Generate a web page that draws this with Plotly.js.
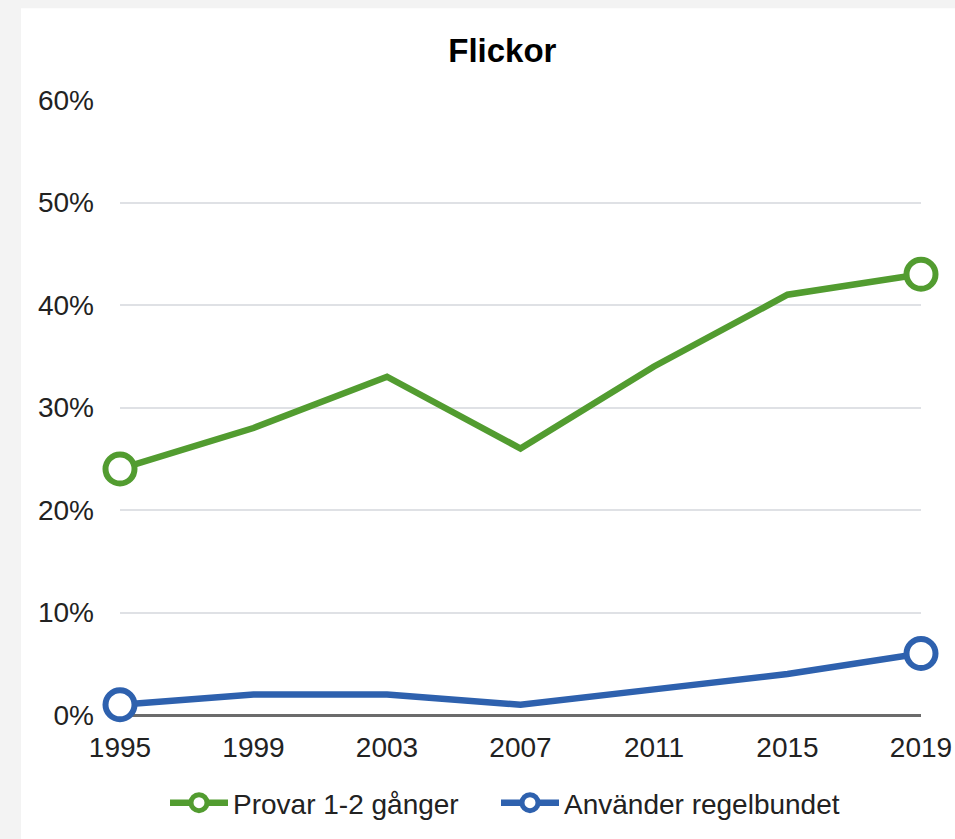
<!DOCTYPE html>
<html>
<head>
<meta charset="utf-8">
<script src="https://cdn.plot.ly/plotly-3.0.1.min.js"></script>
<style>
  html, body { margin: 0; padding: 0; background: #f3f3f3; }
  #chart { width: 955px; height: 839px; }
</style>
</head>
<body>
<div id="chart"></div>
<script>
const years = [1995, 1999, 2003, 2007, 2011, 2015, 2019];
const provar = [24, 28, 33, 26, 34, 41, 43];
const anvander = [1, 2, 2, 1, 2.5, 4, 6];
const seriesNames = ['Provar 1-2 gånger', 'Använder regelbundet'];
const yTickVals = [0, 10, 20, 30, 40, 50, 60];
const yTickText = ['0%', '10%', '20%', '30%', '40%', '50%', '60%'];
const titleText = 'Flickor';

const green = '#529c30';
const blue = '#2e61ae';
const clear = 'rgba(0,0,0,0)';

function endOnly(n, on, off) {
  return Array.from({length: n}, (_, i) => (i === 0 || i === n - 1) ? on : off);
}

function makeTrace(name, yvals, color, legendId) {
  const n = yvals.length;
  return {
    type: 'scatter',
    mode: 'lines+markers',
    name: name,
    legend: legendId,
    x: years,
    y: yvals,
    cliponaxis: false,
    line: {color: color, width: 6.5},
    marker: {
      symbol: 'circle',
      size: 29,
      color: endOnly(n, '#ffffff', clear),
      line: {color: endOnly(n, color, clear), width: 6}
    },
    hoverinfo: 'x+y'
  };
}

const data = [
  makeTrace(seriesNames[0], provar, green, 'legend'),
  makeTrace(seriesNames[1], anvander, blue, 'legend2')
];

const legendBase = {
  orientation: 'h',
  xanchor: 'left',
  y: (716 - 803) / 616, yanchor: 'middle',
  font: {size: 28, color: '#222222'},
  bgcolor: 'rgba(0,0,0,0)',
  itemwidth: 58
};

const layout = {
  width: 955,
  height: 839,
  margin: {l: 120, r: 34, t: 100, b: 123},
  paper_bgcolor: '#f3f3f3',
  plot_bgcolor: '#ffffff',
  font: {family: 'Liberation Sans, Arial, sans-serif', color: '#222222'},
  title: {
    text: '<b>' + titleText + '</b>',
    font: {size: 33, color: '#000000', family: 'Liberation Sans, Arial, sans-serif'},
    x: 0.526, xref: 'container', xanchor: 'center',
    y: 1 - 50 / 839, yref: 'container', yanchor: 'middle'
  },
  shapes: [{
    type: 'rect', xref: 'paper', yref: 'paper', layer: 'below',
    x0: (21 - 120) / 801, x1: (960 - 120) / 801,
    y0: (716 - 845) / 616, y1: (716 - 8) / 616,
    fillcolor: '#ffffff', line: {width: 0}
  }],
  xaxis: {
    range: [1995, 2019],
    tickvals: years,
    ticktext: years.map(String),
    showgrid: false,
    zeroline: false,
    showline: false,
    ticks: '',
    ticklabelstandoff: 13,
    tickfont: {size: 28, color: '#222222'},
    fixedrange: true
  },
  yaxis: {
    range: [0, 60],
    tickvals: yTickVals,
    ticktext: yTickText,
    showgrid: true,
    gridcolor: '#dfe1e5',
    gridwidth: 2,
    zeroline: true,
    zerolinecolor: '#6b6b6b',
    zerolinewidth: 3,
    showline: false,
    ticks: '',
    ticklabelstandoff: 25,
    tickfont: {size: 28, color: '#222222'},
    fixedrange: true
  },
  showlegend: true,
  legend: Object.assign({}, legendBase, {x: (165 - 120) / 801}),
  legend2: Object.assign({}, legendBase, {x: (496 - 120) / 801})
};

Plotly.newPlot('chart', data, layout, {displayModeBar: false, staticPlot: true});
</script>
</body>
</html>
